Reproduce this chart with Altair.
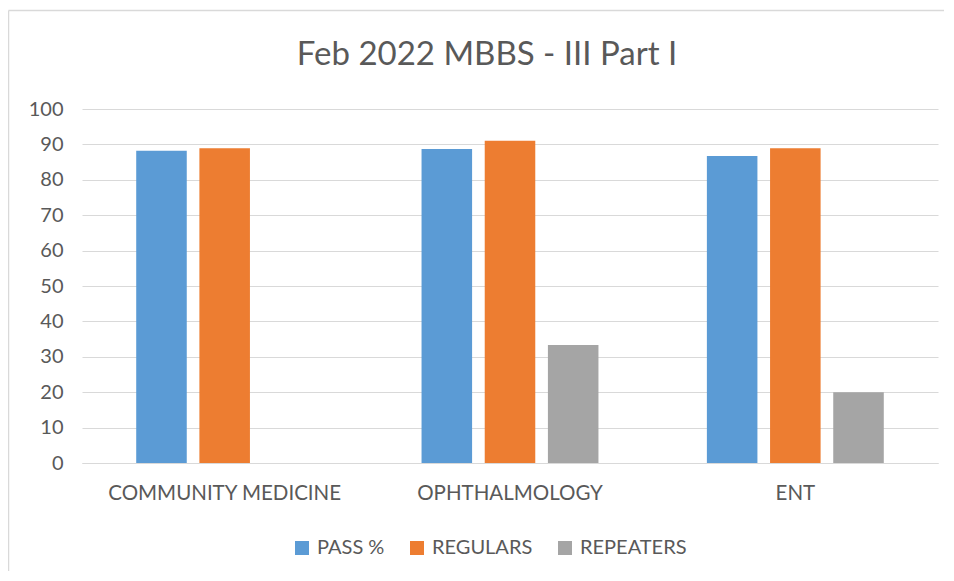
import altair as alt
import pandas as pd

title_text = "Feb 2022 MBBS - III Part I"
categories = ["COMMUNITY MEDICINE", "OPHTHALMOLOGY", "ENT"]
series = ["PASS %", "REGULARS", "REPEATERS"]
pass_pct = [88.2, 88.7, 86.7]
regulars = [88.9, 91.0, 88.9]
repeaters = [0.0, 33.3, 20.0]
colors = ["#5B9BD5", "#ED7D31", "#A5A5A5"]

rows = []
for i, c in enumerate(categories):
    for s, vals in zip(series, [pass_pct, regulars, repeaters]):
        rows.append({"category": c, "series": s, "value": vals[i]})
df = pd.DataFrame(rows)

FONT = "Lato"
TXT = "#595959"

bars = alt.Chart(df).mark_bar().encode(
    x=alt.X("category:N", sort=categories, title=None,
            scale=alt.Scale(paddingInner=0.38, paddingOuter=0.19),
            axis=alt.Axis(labelAngle=0, labelFontSize=20.5, labelColor=TXT, labelFont=FONT,
                          ticks=False, domainColor="#D9D9D9", labelPadding=20, grid=False,
                          labelLimit=400)),
    xOffset=alt.XOffset("series:N", sort=series,
                        scale=alt.Scale(paddingInner=0.2, paddingOuter=0)),
    y=alt.Y("value:Q", title=None,
            scale=alt.Scale(domain=[0, 100], nice=False),
            axis=alt.Axis(values=list(range(0, 101, 10)), labelFontSize=20, labelColor=TXT,
                          labelFont=FONT, ticks=False, domain=False, gridColor="#D9D9D9",
                          labelPadding=19)),
    color=alt.Color("series:N", sort=series, title=None,
                    scale=alt.Scale(domain=series, range=colors),
                    legend=alt.Legend(orient="none", direction="horizontal", legendX=210,
                                      legendY=429, symbolType="square", symbolSize=196,
                                      symbolStrokeWidth=0, labelFontSize=20, labelColor=TXT,
                                      labelFont=FONT, columnPadding=22, labelOffset=5,
                                      symbolOffset=0, labelLimit=300)),
)

one = pd.DataFrame({"t": [title_text]})

top_rule = alt.Chart(one).mark_rule(color="#D9D9D9", strokeWidth=1.5).encode(
    x=alt.value(-73.5), x2=alt.value(862), y=alt.value(-98.5)
)
left_rule = alt.Chart(one).mark_rule(color="#D9D9D9", strokeWidth=1.5).encode(
    x=alt.value(-73.5), y=alt.value(-98.5), y2=alt.value(462)
)
title = alt.Chart(one).mark_text(
    font=FONT, fontSize=33, color=TXT, align="center", baseline="middle"
).encode(x=alt.value(405), y=alt.value(-54), text="t:N")

chart = alt.layer(top_rule, left_rule, title, bars).properties(
    width=856, height=354,
    autosize=alt.AutoSizeParams(type="none"),
    padding={"left": 74, "top": 101, "right": 8, "bottom": 110},
).configure(background="white").configure_view(stroke=None)

chart.save("out.html", embed_options={"renderer": "svg", "actions": False})
